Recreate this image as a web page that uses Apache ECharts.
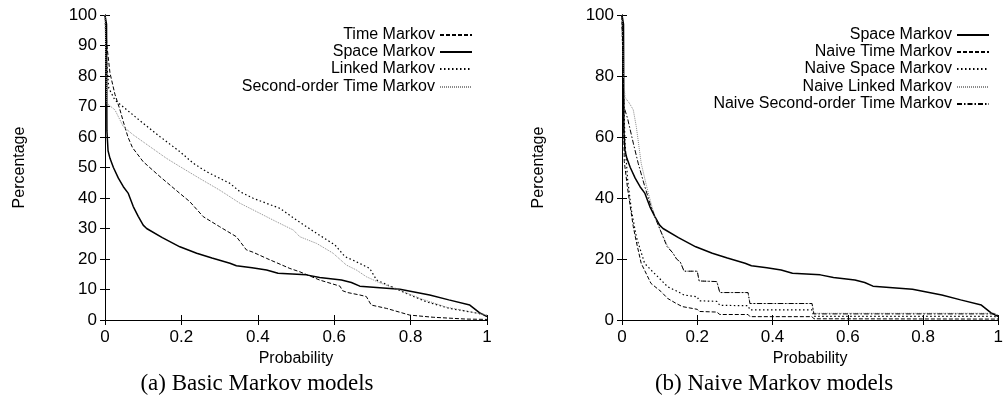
<!DOCTYPE html>
<html>
<head>
<meta charset="utf-8">
<script src="https://cdn.jsdelivr.net/npm/echarts@6/dist/echarts.min.js"></script>
<style>
  html, body { margin: 0; padding: 0; background: #fff; }
  #chart { width: 1006px; height: 398px; }
</style>
</head>
<body>
<div id="chart"></div>
<script>
// [probability, percentage] pairs
const spaceMarkov = [[0,100],[0.004,97],[0.005,62],[0.008,55.5],[0.013,53],[0.022,50],[0.035,46.5],[0.048,43.7],[0.061,41.5],[0.074,37.2],[0.087,34],[0.1,31.1],[0.109,30],[0.15,27],[0.196,24],[0.24,21.9],[0.28,20.3],[0.327,18.6],[0.344,17.8],[0.385,17.1],[0.423,16.4],[0.453,15.3],[0.527,14.8],[0.562,13.9],[0.619,13.1],[0.645,12.3],[0.667,11.1],[0.772,10.1],[0.85,8.2],[0.9,6.6],[0.955,4.9],[0.98,2.4],[1,1.1]];
const timeMarkov = [[0,100],[0.005,90],[0.013,81],[0.026,74],[0.039,69],[0.048,65],[0.06,60],[0.072,56.5],[0.1,51.9],[0.144,47],[0.196,41.5],[0.222,38.8],[0.257,33.9],[0.3,30.6],[0.344,27.3],[0.355,25.5],[0.37,23],[0.388,22.2],[0.423,20.2],[0.484,16.9],[0.51,15.8],[0.562,13.1],[0.615,11.1],[0.622,9.6],[0.635,9],[0.667,8.2],[0.684,7.7],[0.697,4.9],[0.737,3.8],[0.798,1.6],[0.859,0.9],[0.946,0.3],[1,0.2]];
const linkedMarkov = [[0,100],[0.004,85],[0.01,76],[0.026,72.1],[0.057,68.9],[0.1,64.5],[0.144,60.1],[0.196,55.2],[0.231,51.4],[0.266,48.6],[0.327,44.8],[0.353,42.1],[0.388,39.9],[0.458,36.6],[0.501,32.8],[0.554,28.4],[0.602,24.6],[0.628,20.8],[0.658,19.1],[0.693,16.9],[0.711,13.1],[0.754,10.7],[0.789,8.7],[0.841,6],[0.902,3.8],[0.963,2.5],[1,1.6]];
const secondOrderMarkov = [[0,100],[0.003,80],[0.005,71],[0.026,68.9],[0.048,63.4],[0.074,60.7],[0.118,56.8],[0.161,53],[0.196,50.3],[0.248,46.4],[0.3,42.6],[0.353,38.3],[0.405,35],[0.449,32.2],[0.493,29.5],[0.51,27.3],[0.554,25.1],[0.597,21.9],[0.632,18],[0.658,16.4],[0.684,14.2],[0.719,12.2],[0.772,9.8],[0.824,7.1],[0.894,4.2],[0.963,2.5],[1,1.6]];

const naiveTime = [[0,100],[0.004,70],[0.006,52],[0.015,43],[0.03,30.6],[0.038,25.7],[0.051,18.6],[0.077,12],[0.104,9.3],[0.121,7.1],[0.143,5.5],[0.16,4.4],[0.2,3.5],[0.205,2.8],[0.252,2.6],[0.26,1.8],[0.335,1.8],[0.34,1.1],[0.505,1.1],[0.51,0.4],[1,0.3]];
const naiveSpace = [[0,100],[0.004,75],[0.008,58],[0.015,46],[0.025,36],[0.038,27.3],[0.06,18.6],[0.077,16.4],[0.104,13.1],[0.121,10.9],[0.145,9.5],[0.165,8.2],[0.2,7.6],[0.205,6.3],[0.252,6.1],[0.26,4.8],[0.335,4.7],[0.34,3.3],[0.505,3.3],[0.51,1.2],[0.99,1.2],[1,0.6]];
const naiveLinked = [[0,100],[0.004,80],[0.008,73],[0.02,71],[0.03,68.9],[0.038,63.4],[0.051,51.4],[0.065,44],[0.08,37],[0.09,33],[0.1,30],[0.12,24.5],[0.135,22],[0.145,20],[0.155,19],[0.165,16],[0.2,16],[0.205,12.8],[0.252,12.6],[0.26,9],[0.335,9],[0.34,5.4],[0.505,5.4],[0.51,2.2],[0.99,2.2],[1,1.5]];
const naiveSecondOrder = [[0,100],[0.005,70],[0.015,66],[0.03,58],[0.043,51.4],[0.06,44],[0.075,38],[0.09,33],[0.1,30],[0.12,24],[0.135,22],[0.145,20],[0.155,19],[0.165,16],[0.2,16],[0.205,12.8],[0.252,12.6],[0.26,9],[0.335,9],[0.34,5.4],[0.505,5.4],[0.51,2],[0.99,2],[1,1.4]];

const leftNames = ['Time Markov', 'Space Markov', 'Linked Markov', 'Second-order Time Markov'];
const rightNames = ['Space Markov', 'Naive Time Markov', 'Naive Space Markov', 'Naive Linked Markov', 'Naive Second-order Time Markov'];
const captions = ['(a) Basic Markov models', '(b) Naive Markov models'];

const SANS = 'Liberation Sans';
const SERIF = 'Liberation Serif';

const chart = echarts.init(document.getElementById('chart'));

const grids = [
  { left: 105, top: 15, width: 382, height: 305 },
  { left: 622, top: 15, width: 382, height: 305 },
];

const tick = { show: true, inside: true, length: 5, lineStyle: { color: '#000' } };
const axisLine = { show: true, lineStyle: { color: '#000', width: 1 } };
const label = { fontFamily: SANS, fontSize: 17, color: '#000' };

const xAxes = [];
const yAxes = [];
[0, 1].forEach((g) => {
  xAxes.push({
    type: 'value', gridIndex: g, min: 0, max: 1, interval: 0.2, position: 'bottom',
    name: 'Probability', nameLocation: 'middle', nameGap: 26,
    nameTextStyle: { fontFamily: SANS, fontSize: 16, color: '#000' },
    axisLine, axisTick: tick, splitLine: { show: false },
    axisLabel: { ...label, margin: 9 },
  });
  xAxes.push({
    type: 'value', gridIndex: g, min: 0, max: 1, interval: 0.2, position: 'top',
    axisLine, axisTick: tick, splitLine: { show: false }, axisLabel: { show: false },
  });
  const step = g === 0 ? 10 : 20;
  yAxes.push({
    type: 'value', gridIndex: g, min: 0, max: 100, interval: step, position: 'left',
    name: 'Percentage', nameLocation: 'middle', nameGap: g === 0 ? 77 : 75, nameRotate: 90,
    nameTextStyle: { fontFamily: SANS, fontSize: 16, color: '#000' },
    axisLine, axisTick: tick, splitLine: { show: false },
    axisLabel: { ...label, margin: 8 },
  });
  yAxes.push({
    type: 'value', gridIndex: g, min: 0, max: 100, interval: step, position: 'right',
    axisLine, axisTick: tick, splitLine: { show: false }, axisLabel: { show: false },
  });
});

function line(name, data, g, color, width, type) {
  return {
    name, type: 'line', data,
    xAxisIndex: g * 2, yAxisIndex: g * 2,
    showSymbol: false, symbol: 'none', animation: false,
    lineStyle: { color, width, type },
    itemStyle: { color },
  };
}

const series = [
  line('Time Markov', timeMarkov, 0, '#000', 1, [4, 2]),
  line('Space Markov', spaceMarkov, 0, '#000', 1.5, 'solid'),
  line('Linked Markov', linkedMarkov, 0, '#000', 1.2, [1.5, 2.5]),
  line('Second-order Time Markov', secondOrderMarkov, 0, '#8a8a8a', 1, [1, 1]),
  line('Space Markov', spaceMarkov, 1, '#000', 1.5, 'solid'),
  line('Naive Time Markov', naiveTime, 1, '#000', 1, [4, 2]),
  line('Naive Space Markov', naiveSpace, 1, '#000', 1.2, [1.5, 2.5]),
  line('Naive Linked Markov', naiveLinked, 1, '#8a8a8a', 1, [1, 1]),
  line('Naive Second-order Time Markov', naiveSecondOrder, 1, '#000', 1, [5, 2, 1.5, 2]),
];

// gnuplot-style key: one row per legend so the texts line up on the right
const rowTops = [35, 52, 69, 87, 104];
const legends = [];
leftNames.forEach((n, i) => legends.push({ name: n, right: 533, center: rowTops[i] }));
rightNames.forEach((n, i) => legends.push({ name: n, right: 16, center: rowTops[i] }));

chart.setOption({
  animation: false,
  backgroundColor: '#fff',
  grid: grids,
  xAxis: xAxes,
  yAxis: yAxes,
  legend: legends.map((l) => ({
    data: [l.name], orient: 'vertical', align: 'right',
    right: l.right, top: l.center - 8, padding: 0,
    itemWidth: 32, itemHeight: 16, selectedMode: false,
    itemStyle: { opacity: 0 },
    textStyle: { fontFamily: SANS, fontSize: 16, color: '#000', lineHeight: 16 },
  })),
  title: [
    { text: captions[0], left: 257, top: 372, textAlign: 'center', padding: 0,
      textStyle: { fontFamily: SERIF, fontSize: 23, fontWeight: 'normal', color: '#000' } },
    { text: captions[1], left: 774, top: 372, textAlign: 'center', padding: 0,
      textStyle: { fontFamily: SERIF, fontSize: 23, fontWeight: 'normal', color: '#000' } },
  ],
  series,
});
</script>
</body>
</html>
